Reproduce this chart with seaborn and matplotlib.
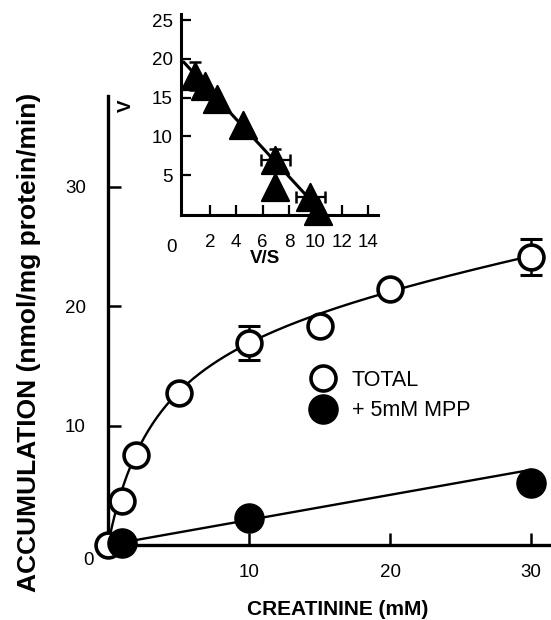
import numpy as np
import pandas as pd
import matplotlib
matplotlib.use("Agg")
import matplotlib.pyplot as plt
import seaborn as sns
from matplotlib.lines import Line2D

# main panel: creatinine uptake
conc_total = [0, 1, 2, 5, 10, 15, 20, 30]
acc_total = [0.0, 3.7, 7.5, 12.7, 16.9, 18.3, 21.4, 24.1]
err_total = [0, 0, 0, 0, 1.4, 0, 0, 1.5]

conc_mpp = [1, 10, 30]
acc_mpp = [0.2, 2.3, 5.2]

# fitted lines (Michaelis-Menten + diffusion)
VMAX = 20.0
KM = 3.5
KD = 0.21

# inset: Eadie-Hofstee plot
vs = [0.9, 1.6, 2.5, 4.5, 6.95, 6.95, 9.6, 10.2]
v = [17.8, 16.5, 14.8, 11.4, 6.9, 3.45, 2.2, 0.3]
vs_err = [0, 0, 0, 0, 1.1, 0, 1.1, 0]
v_err = [1.8, 0, 0, 0, 1.4, 0, 0, 0]
INSET_VMAX = 19.6
INSET_SLOPE = -1.85

df_total = pd.DataFrame({"conc": conc_total, "acc": acc_total, "err": err_total})
df_mpp = pd.DataFrame({"conc": conc_mpp, "acc": acc_mpp})
df_ins = pd.DataFrame({"vs": vs, "v": v, "xerr": vs_err, "yerr": v_err})

sns.set_style("ticks", {"axes.edgecolor": "black", "xtick.color": "black",
                        "ytick.color": "black", "text.color": "black",
                        "axes.labelcolor": "black"})
plt.rcParams["font.family"] = ["Liberation Sans", "DejaVu Sans"]

fig = plt.figure(figsize=(5.51, 6.2), dpi=100)
ax = fig.add_axes([108 / 551, 75 / 620, 443 / 551, 449 / 620])

s = np.linspace(0, max(conc_total), 200)
sns.lineplot(x=s, y=VMAX * s / (KM + s) + KD * s, ax=ax, color="black", lw=1.7, zorder=2)
sns.lineplot(x=s, y=KD * s, ax=ax, color="black", lw=1.7, zorder=2)

ax.errorbar(df_total["conc"], df_total["acc"], yerr=df_total["err"], fmt="none",
            ecolor="black", elinewidth=1.8, capsize=8, capthick=2.2, zorder=3)
sns.scatterplot(data=df_total, x="conc", y="acc", ax=ax, marker="o", s=320,
                facecolor="white", edgecolor="black", linewidth=2.6, zorder=4, clip_on=False)
sns.scatterplot(data=df_mpp, x="conc", y="acc", ax=ax, marker="o", s=440,
                color="black", edgecolor="black", linewidth=1, zorder=5, clip_on=False)

ax.set_xlim(0, 31.4)
ax.set_ylim(0, 37.6)
ax.set_xticks([10, 20, 30])
ax.set_yticks([10, 20, 30])
ax.tick_params(direction="in", length=9, width=1.8, labelsize=13.5)
ax.tick_params(axis="y", pad=16)
ax.tick_params(axis="x", pad=14)
ax.text(-1.4, -1.3, "0", fontsize=13.5, ha="center", va="center")
for side in ["top", "right"]:
    ax.spines[side].set_visible(False)
for side in ["left", "bottom"]:
    ax.spines[side].set_linewidth(2.4)
ax.set_xlabel("CREATININE (mM)", fontsize=15, fontweight="bold")
ax.xaxis.set_label_coords((338 - 108) / 443, -(600 - 545) / 449)
ax.set_ylabel("ACCUMULATION (nmol/mg protein/min)", fontsize=19, fontweight="bold")
ax.yaxis.set_label_coords(-(108 - 41) / 443, (545 - 342) / 449)
ax.patch.set_alpha(0)

handles = [
    Line2D([], [], marker="o", ls="none", ms=18, mfc="white", mec="black", mew=2.6),
    Line2D([], [], marker="o", ls="none", ms=21, mfc="black", mec="black"),
]
fig.legend(handles, ["TOTAL", "+ 5mM MPP"], loc="upper left",
           bbox_to_anchor=(312 / 551, 1 - 370 / 620), bbox_transform=fig.transFigure,
           frameon=False, fontsize=15.5, handlelength=1.0, handletextpad=0.85,
           labelspacing=0.42, borderpad=0, borderaxespad=0)

# inset
ins = fig.add_axes([181 / 551, (620 - 215) / 620, 197 / 551, 201 / 620])
xs = np.linspace(0, max(vs), 50)
sns.lineplot(x=xs, y=INSET_VMAX + INSET_SLOPE * xs, ax=ins, color="black", lw=2.2, zorder=2)
ins.errorbar(df_ins["vs"], df_ins["v"], xerr=df_ins["xerr"], yerr=df_ins["yerr"], fmt="none",
             ecolor="black", elinewidth=1.6, capsize=4, capthick=1.8, zorder=3)
sns.scatterplot(data=df_ins, x="vs", y="v", ax=ins, marker="^", s=380, color="black",
                edgecolor="black", zorder=4, clip_on=False)
ins.set_xlim(-0.2, 14.76)
ins.set_ylim(-0.16, 25.8)
ins.set_xticks([2, 4, 6, 8, 10, 12, 14])
ins.set_yticks([5, 10, 15, 20, 25])
ins.tick_params(direction="in", length=7, width=1.6, labelsize=13.5)
ins.tick_params(axis="y", pad=6)
ins.tick_params(axis="x", pad=14)
ins.text(-0.9, -3.2, "0", fontsize=13.5, ha="center", va="top")
for side in ["top", "right"]:
    ins.spines[side].set_visible(False)
for side in ["left", "bottom"]:
    ins.spines[side].set_linewidth(2.2)
ins.set_xlabel("V/S", fontsize=13.5, fontweight="bold")
ins.xaxis.set_label_coords((265 - 181) / 197, -(250 - 215) / 201)
ins.set_ylabel("V", fontsize=13.5, fontweight="bold")
ins.yaxis.set_label_coords(-(181 - 135) / 197, (215 - 106) / 201)
ins.patch.set_alpha(0)

fig.savefig("out.png", dpi=100)
